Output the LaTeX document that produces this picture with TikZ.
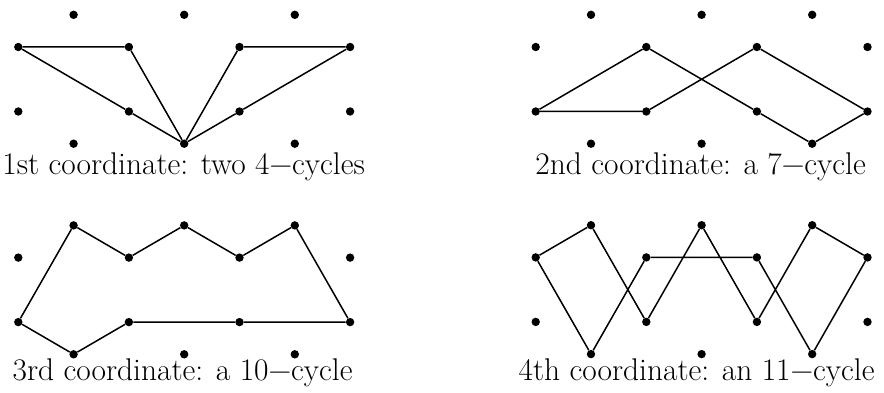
\documentclass[tikz,border=0pt]{standalone}
\begin{document}
\begin{tikzpicture}[x=1pt,y=-1pt,
  dot/.style={circle,fill=black,inner sep=0pt,minimum size=8.4pt},
  edge/.style={line width=1.5pt,line join=round},
  lab/.style={anchor=base,inner sep=0pt,font=\fontsize{31.4}{36}\selectfont}]
\useasboundingbox (0,0) rectangle (884,393);
\foreach \p/\ox/\oy in {1/18.3/47, 2/535.7/47, 3/18.3/257.6, 4/535.7/257.4}{
  \foreach \i in {1,2,3}{
    \node[dot] (p\p T\i) at ({\ox+55.3+110.6*(\i-1)},{\oy-32.2}) {};
    \node[dot] (p\p D\i) at ({\ox+55.3+110.6*(\i-1)},{\oy+96.7}) {};
  }
  \foreach \i in {1,...,4}{
    \node[dot] (p\p A\i) at ({\ox+110.6*(\i-1)},\oy) {};
    \node[dot] (p\p B\i) at ({\ox+110.6*(\i-1)},{\oy+64.5}) {};
  }
}
% panel 1: two 4-cycles
\draw[edge] (p1A1) -- (p1A2) -- (p1D2) -- (p1B2) -- (p1A1);
\draw[edge] (p1A3) -- (p1A4) -- (p1B3) -- (p1D2) -- (p1A3);
% panel 2: a 7-cycle
\draw[edge] (p2B1) -- (p2A2) -- (p2B3) -- (p2D3) -- (p2B4) -- (p2A3) -- (p2B2) -- (p2B1);
% panel 3: a 10-cycle
\draw[edge] (p3T1) -- (p3A2) -- (p3T2) -- (p3A3) -- (p3T3) -- (p3B4) -- (p3B3) -- (p3B2) -- (p3D1) -- (p3B1) -- (p3T1);
% panel 4: an 11-cycle
\draw[edge] (p4A1) -- (p4T1) -- (p4B2) -- (p4T2) -- (p4B3) -- (p4T3) -- (p4A4) -- (p4D3) -- (p4A3) -- (p4A2) -- (p4D1) -- (p4A1);
% labels
\node[lab] (l1) at (183.6,174.5) {1st coordinate: two 4−cycles};
\node[lab] (l2) at (700.6,174.5) {2nd coordinate: a 7−cycle};
\node[lab] (l3) at (182.6,380.5) {3rd coordinate: a 10−cycle};
\node[lab] (l4) at (696.6,380.5) {4th coordinate: an 11−cycle};
\end{tikzpicture}
\end{document}
